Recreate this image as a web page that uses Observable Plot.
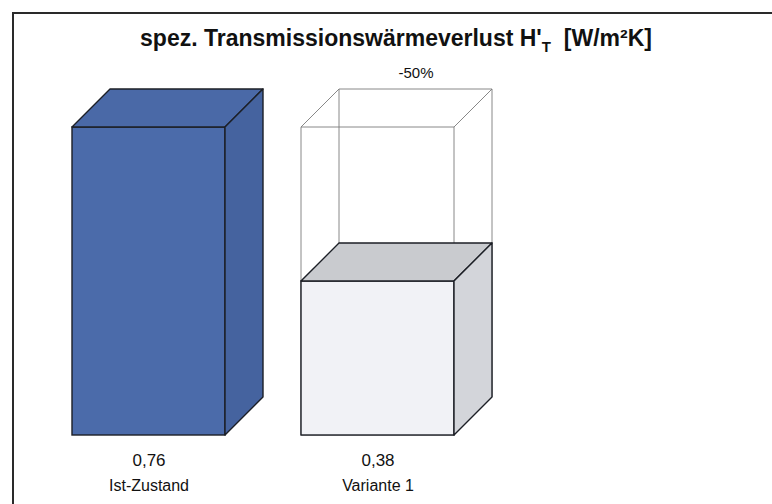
<!DOCTYPE html>
<html><head><meta charset="utf-8">
<script src="https://cdn.jsdelivr.net/npm/d3@7"></script>
<script src="https://cdn.jsdelivr.net/npm/@observablehq/plot@0.6"></script>
<style>
html,body{margin:0;padding:0;background:#fff;overflow:hidden;width:772px;height:504px}
#wrap{position:relative;width:772px;height:504px;overflow:hidden}
#hline{position:absolute;left:12px;top:12px;width:760px;height:2px;background:#2a2a2a}
#vline{position:absolute;left:12px;top:12px;width:2px;height:492px;background:#2a2a2a}
#title{position:absolute;left:0;top:27px;width:792px;text-align:center;font:bold 23px/23px "Liberation Sans",Arial,sans-serif;color:#111;white-space:pre}
#title .sub{font-size:15px;vertical-align:-6px}
#chart{position:absolute;left:0;top:0}
</style>
</head><body>
<div id="wrap">
  <div id="hline"></div>
  <div id="vline"></div>
  <div id="chart"></div>
  <div id="title">spez. Transmissionswärmeverlust H'<span class="sub">T</span>  [W/m²K]</div>
</div>
<script>
// ---- data ----
const categories = ["Ist-Zustand", "Variante 1"];
const values = [0.76, 0.38];
const valueLabels = ["0,76", "0,38"];
const referenceValue = values[0];

// ---- style ----
const depth = 38;
const faceColors = {
  "Ist-Zustand": {front: "#4b6baa", top: "#4a69a7", side: "#45639f"},
  "Variante 1": {front: "#f1f2f6", top: "#c9cbcf", side: "#d3d5da"}
};

const data = categories.map((c, i) => ({category: c, value: values[i], label: valueLabels[i]}));
const changes = data.slice(1).map(d => ({
  category: d.category,
  value: referenceValue,
  text: `${Math.round((d.value / referenceValue - 1) * 100)}%`
}));

const NS = "http://www.w3.org/2000/svg";
function path(g, d, fill, stroke, sw) {
  const p = document.createElementNS(NS, "path");
  p.setAttribute("d", d);
  p.setAttribute("fill", fill);
  p.setAttribute("stroke", stroke);
  p.setAttribute("stroke-width", sw);
  p.setAttribute("stroke-linejoin", "round");
  g.appendChild(p);
}

// ghost wireframe of the reference value behind each variant
function ghostMark(index, scales) {
  const g = document.createElementNS(NS, "g");
  const bw = scales.x.bandwidth();
  for (const d of changes) {
    const x0 = scales.x(d.category), x1 = x0 + bw;
    const yT = scales.y(d.value), yB = scales.y(0);
    const s = "#7a7a7a";
    path(g, `M${x0},${yB}L${x0},${yT}L${x1},${yT}L${x1},${yB}Z`, "none", s, 0.9);
    path(g, `M${x0+depth},${yB-depth}L${x0+depth},${yT-depth}L${x1+depth},${yT-depth}L${x1+depth},${yB-depth}Z`, "none", s, 0.9);
    path(g, `M${x0},${yT}L${x0+depth},${yT-depth}M${x1},${yT}L${x1+depth},${yT-depth}M${x1},${yB}L${x1+depth},${yB-depth}M${x0},${yB}L${x0+depth},${yB-depth}`, "none", s, 0.9);
  }
  return g;
}

// top and side faces of each box
function boxFaces(index, scales) {
  const g = document.createElementNS(NS, "g");
  const bw = scales.x.bandwidth();
  for (const d of data) {
    const x0 = scales.x(d.category), x1 = x0 + bw;
    const yT = scales.y(d.value), yB = scales.y(0);
    const c = faceColors[d.category];
    path(g, `M${x0},${yT}L${x0+depth},${yT-depth}L${x1+depth},${yT-depth}L${x1},${yT}Z`, c.top, "#1c1f26", 1.4);
    path(g, `M${x1},${yT}L${x1+depth},${yT-depth}L${x1+depth},${yB-depth}L${x1},${yB}Z`, c.side, "#1c1f26", 1.4);
  }
  return g;
}

const chart = Plot.plot({
  width: 772,
  height: 504,
  margin: 0,
  style: {fontFamily: "'Liberation Sans', Arial, sans-serif", fontSize: "16px", background: "transparent", color: "#111"},
  x: {type: "band", domain: categories, range: [71, 455], paddingInner: 0.33, paddingOuter: 0, axis: null},
  y: {domain: [0, d3.max(values)], range: [435, 127], axis: null},
  color: {domain: categories, range: categories.map(c => faceColors[c].front)},
  marks: [
    ghostMark,
    Plot.barY(data, {x: "category", y: "value", fill: "category", stroke: "#1c1f26", strokeWidth: 1.4}),
    boxFaces,
    Plot.text(data, {x: "category", y: 0, text: "label", dy: 25, fontSize: 17, fill: "#111"}),
    Plot.text(data, {x: "category", y: 0, text: "category", dy: 50, fontSize: 16, fill: "#111"}),
    Plot.text(changes, {x: "category", y: "value", text: "text", dx: depth, dy: -depth - 16, fontSize: 15, fill: "#111"})
  ]
});
document.getElementById("chart").appendChild(chart);
</script>
</body></html>
